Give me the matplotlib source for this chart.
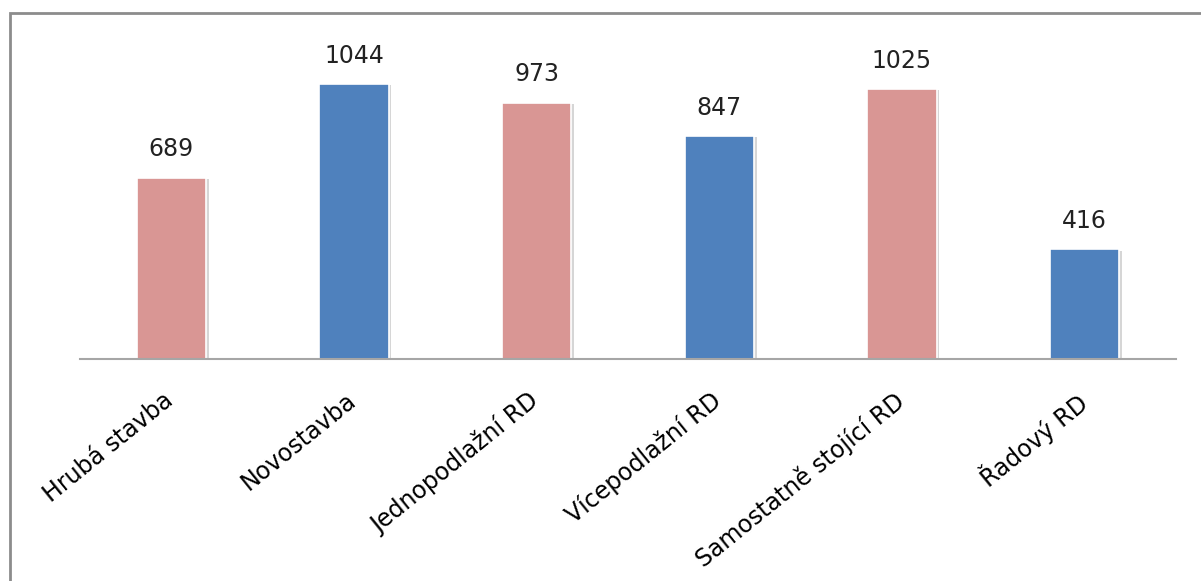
import matplotlib
matplotlib.use("Agg")
import matplotlib.pyplot as plt
import matplotlib.patheffects as pe
import matplotlib.transforms as mtrans
from matplotlib.patches import Rectangle
import numpy as np

categories = ["Hrubá stavba", "Novostavba", "Jednopodlažní RD",
              "Vícepodlažní RD", "Samostatně stojící RD", "Řadový RD"]
values = [689, 1044, 973, 847, 1025, 416]
colors = ["#d99694", "#4f81bd", "#d99694", "#4f81bd", "#d99694", "#4f81bd"]

plt.rcParams['font.family'] = ['DejaVu Sans']

fig = plt.figure(figsize=(12.01, 5.81), dpi=100)
ax = fig.add_axes([80/1201, 222/581, 1096/1201, 316/581])

x = np.arange(len(categories))
bars = ax.bar(x, values, width=0.38, color=colors, edgecolor="white", linewidth=1.2,
              path_effects=[pe.SimplePatchShadow(offset=(2, -1), shadow_rgbFace="#bbbbbb", alpha=0.6),
                            pe.Normal()])

for xi, v in zip(x, values):
    ax.text(xi, v + 62, str(v), ha="center", va="bottom", fontsize=17, color="#222222")

ax.set_xlim(-0.5, len(categories) - 0.5)
ax.set_ylim(0, 1200)
ax.set_yticks([])
ax.set_xticks(x)
ax.set_xticklabels(categories, rotation=39, ha="right", va="top",
                   rotation_mode="anchor", fontsize=17)
ax.tick_params(axis="x", length=0, pad=21)
shift = mtrans.ScaledTranslation(-9/100, 0, fig.dpi_scale_trans)
for lbl in ax.get_xticklabels():
    lbl.set_transform(lbl.get_transform() + shift)
for s in ["top", "right", "left"]:
    ax.spines[s].set_visible(False)
ax.spines["bottom"].set_color("#a6a6a6")
ax.spines["bottom"].set_linewidth(1.5)

# outer frame of the chart
fig.patches.append(Rectangle((9.5/1201, -0.2), 1.2, 1.2 - 12.5/581,
                             transform=fig.transFigure, fill=False,
                             edgecolor="#8c8c8c", linewidth=2, figure=fig))

plt.savefig("out.png", dpi=100)
